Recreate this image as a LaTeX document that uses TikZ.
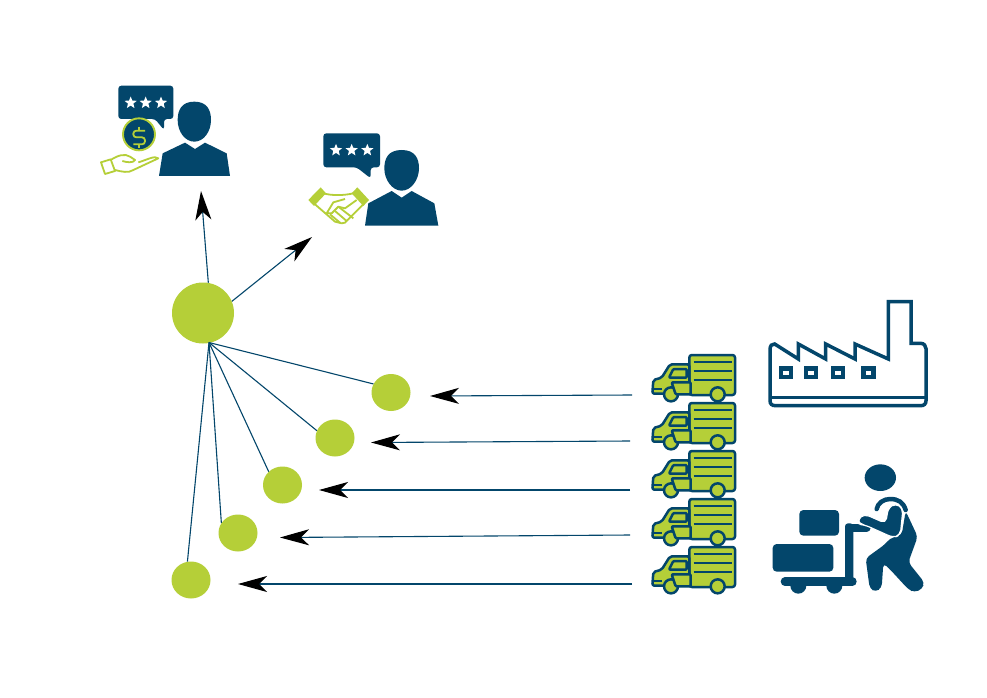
\documentclass[tikz,border=0pt]{standalone}
\usetikzlibrary{arrows.meta,shapes.geometric}
\definecolor{navy}{HTML}{03466B}
\definecolor{lime}{HTML}{B5CF38}
\tikzset{
  hubdot/.style={ellipse,fill=lime,draw=none,inner sep=0pt,minimum width=#1},
  link/.style={draw=navy,line width=1.1pt},
  flow/.style={link,-{Stealth[length=29pt,width=16pt,inset=8pt,black]}},
  starmark/.pic={\fill[white,scale=0.36] (0,-17)--(4.5,-6)--(17,-5)--(7.5,2.5)--(10.5,15)--(0,8)--(-10.5,15)--(-7.5,2.5)--(-17,-5)--(-4.5,-6)--cycle;},
  truckicon/.pic={
    \begin{scope}[scale=1/3,draw=navy,line width=2.5pt,line join=round,fill=lime]
      \filldraw[rounded corners=2.5pt] (133,30) rectangle (270,150);
      \filldraw[rounded corners=2pt] (133,58)--(75,58)--(50,98)--(25,105)--(22,146)--(60,146)--(133,146)--cycle;
      \draw[line width=2pt] (146,50)--(262,50) (146,78)--(262,78) (146,106)--(262,106) (22,133)--(50,133);
      \filldraw[rounded corners=1pt] (85,72)--(125,72)--(125,98)--(72,98)--cycle;
      \filldraw (78,148) circle[radius=21];
      \filldraw (218,148) circle[radius=21];
      \filldraw[rounded corners=1pt] (80,112)--(137,112)--(137,148)--(92,148)--cycle;
    \end{scope}},
  factoryicon/.pic={
    \begin{scope}[scale=1/3,draw=navy,line width=3.5pt,line join=miter]
      \draw[fill=white] (30,178) .. controls (30,168) and (36,160) .. (44,162)--(115,207)--(115,162)--(197,207)--(197,162)--(285,207)--(285,162)--(385,207)--(385,35)--(453,35)--(453,160)--(482,160) .. controls (492,160) and (498,168) .. (498,176)--(498,332) .. controls (498,342) and (492,347) .. (482,347)--(46,347) .. controls (36,347) and (30,342) .. (30,332)--cycle;
      \draw (30,322)--(498,322);
      \foreach \wx in {62.5,137.5,219.5,310}{\draw[line width=4.4pt] (\wx,236) rectangle ++(30,25);}
    \end{scope}},
  workericon/.pic={
    \begin{scope}[scale=1/3,fill=navy,draw=navy,line cap=round,line join=round]
      \fill[navy] (346,68) ellipse[x radius=47,y radius=40];
      \fill[navy,rounded corners=4pt] (103,165) rectangle (222,242);
      \fill[navy,rounded corners=4pt] (23,267) rectangle (205,350);
      \draw[line width=8.7pt] (60,380)--(262,380);
      \fill[navy] (100,392) circle[radius=24];
      \fill[navy] (208,392) circle[radius=24];
      \fill[navy,rounded corners=3pt] (240,205) rectangle (265,385);
      \draw[line width=8pt] (252,218)--(305,218);
      % torso and legs
      \fill[navy,rounded corners=4pt] (422,168)--(458,245)--(430,322)--(478,382)--(472,402)--(448,412)--(430,403)--(372,340)--(355,325)--(350,398)--(332,411)--(314,400)--(302,310)--(360,268)--(375,250)--(410,240)--cycle;
      % arm with white halo
      \fill[navy,draw=white,line width=1.2pt,rounded corners=5pt] (278,192)--(298,177)--(362,205)--(370,158)--(392,145)--(414,160)--(406,240)--(385,248)--(300,210)--(282,208)--cycle;
      \draw[line width=4.5pt] (335,162) .. controls (338,145) and (355,132) .. (375,132) .. controls (400,132) and (415,142) .. (422,165);
    \end{scope}},
}
\begin{document}
\begin{tikzpicture}[x=1pt,y=-1pt]
\useasboundingbox (0,0) rectangle (987,698);
\fill[white] (0,0) rectangle (987,698);

% person 1 with coin and hand
\begin{scope}[shift={(90,75)},scale=1/3]
  \fill[navy,rounded corners=3pt] (85,32)--(250,32)--(250,132)--(222,132)--(222,165)--(195,132)--(85,132)--cycle;
  \pic at (122,83) {starmark};
  \pic at (167,83) {starmark};
  \pic at (213,83) {starmark};
  \filldraw[fill=navy,draw=lime,line width=1.9pt] (147,178) circle[radius=48];
  \draw[lime,line width=1.8pt,rounded corners=3pt] (165,167)--(130,167)--(130,187)--(165,187)--(165,208)--(130,208);
  \draw[lime,line width=1.8pt] (147,155)--(147,167) (147,208)--(147,219);
  \fill[navy] (313,80) .. controls (275,80) and (263,105) .. (263,135) .. controls (263,170) and (285,200) .. (313,200) .. controls (341,200) and (363,170) .. (363,135) .. controls (363,105) and (351,80) .. (313,80) -- cycle;
  \fill[navy] (207,303)--(218,235)--(285,203)--(315,222)--(345,203)--(410,235)--(420,303)--cycle;
  \draw[lime,line width=1.8pt,line join=round] (33,262)--(62,253)--(75,288)--(45,297)--cycle;
  \draw[lime,line width=1.8pt,line join=round] (62,255) .. controls (85,240) and (105,235) .. (120,245) -- (135,255) .. controls (130,265) and (110,262) .. (97,258);
  \draw[lime,line width=1.8pt,line join=round] (75,285) .. controls (95,290) and (115,295) .. (130,285) -- (205,250) .. controls (195,240) and (170,255) .. (145,262);
\end{scope}

% person 2 with handshake
\begin{scope}[shift={(300,125)},scale=1/3]
  \fill[navy,rounded corners=3pt] (70,25)--(240,25)--(240,127)--(212,127)--(212,160)--(170,127)--(70,127)--cycle;
  \pic at (108,75) {starmark};
  \pic at (155,75) {starmark};
  \pic at (202,75) {starmark};
  \fill[navy] (305,75) .. controls (265,75) and (253,100) .. (253,130) .. controls (253,165) and (277,197) .. (305,197) .. controls (333,197) and (357,165) .. (357,130) .. controls (357,100) and (345,75) .. (305,75) -- cycle;
  \fill[navy] (195,302)--(205,235)--(275,198)--(305,218)--(335,198)--(403,235)--(415,302)--cycle;
  \fill[lime] (25,225)--(62,187)--(78,205)--(42,243)--cycle;
  \fill[lime] (155,205)--(172,187)--(207,225)--(190,243)--cycle;
  \draw[lime,line width=1.8pt,line join=round] (70,205) .. controls (95,212) and (130,212) .. (160,205);
  \draw[lime,line width=1.8pt,line join=round] (45,238)--(105,290)--(125,295)--(135,293)--(190,238);
  \draw[lime,line width=1.8pt,line join=round] (135,222)--(100,232)--(80,265)--(95,265)--(115,245)--(135,250)--(170,225);
  \draw[lime,line width=1.8pt,line join=round] (115,245)--(160,280) (90,268)--(120,293) (105,258)--(140,288);
\end{scope}

% trucks
\pic at (645,345) {truckicon};
\pic at (645,393) {truckicon};
\pic at (645,441) {truckicon};
\pic at (645,489) {truckicon};
\pic at (645,537) {truckicon};

\pic at (760,290) {factoryicon};
\pic at (765,455) {workericon};

% circles
\node[hubdot=62pt,minimum height=61pt] (hub) at (203,313) {};
\node[hubdot=39pt,minimum height=37pt] (c1) at (391,392.5) {};
\node[hubdot=39pt,minimum height=37pt] (c2) at (335,438) {};
\node[hubdot=39pt,minimum height=37pt] (c3) at (282.5,485) {};
\node[hubdot=39pt,minimum height=37pt] (c4) at (238,533) {};
\node[hubdot=39pt,minimum height=37pt] (c5) at (191,580) {};

\coordinate (root) at (209,342.5);
\draw[link] (root)--(c1.154);
\draw[link] (root)--(c2.158);
\draw[link] (root)--(c3.136);
\draw[link] (root)--(c4.149);
\draw[link] (root)--(c5.101);

% customers
\coordinate (top1) at (201,191);
\coordinate (top2) at (312,237);
\draw[flow] (hub.80) -- (top1);
\draw[flow] (hub.22) -- (top2);

% deliveries
\coordinate (s1) at (632,395); \coordinate (e1) at (430,396);
\coordinate (s2) at (630,441); \coordinate (e2) at (371,442.5);
\coordinate (s3) at (630,490); \coordinate (e3) at (319,490);
\coordinate (s4) at (630,535); \coordinate (e4) at (280,537.5);
\coordinate (s5) at (632,584); \coordinate (e5) at (238,584);
\foreach \k in {1,...,5}{\draw[flow] (s\k)--(e\k);}
\end{tikzpicture}
\end{document}
